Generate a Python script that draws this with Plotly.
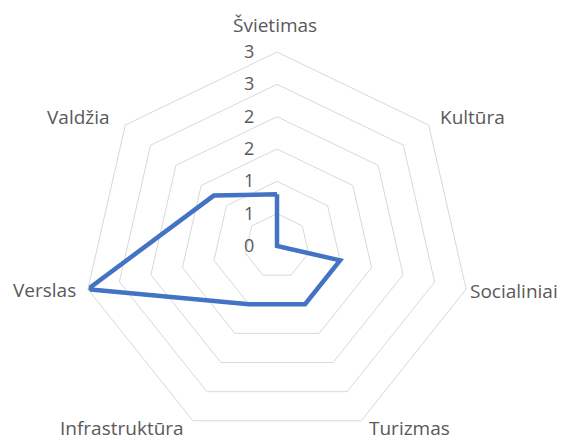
import plotly.graph_objects as go

categories = ["Švietimas", "Kultūra", "Socialiniai", "Turizmas", "Infrastruktūra", "Verslas", "Valdžia"]
values = [0.8, 0.0, 1.0, 1.0, 1.0, 3.0, 1.25]
tick_vals = [0, 0.5, 1, 1.5, 2, 2.5, 3]
tick_text = ["0", "1", "1", "2", "2", "3", "3"]

W, H = 569, 440
cx, cy, r = 277, 246, 194

# category label placement (pixels from top-left) and anchors
label_pos = [
    (275, 25, "center"),
    (438, 117, "left"),
    (468, 291, "left"),
    (367, 428, "left"),
    (186, 428, "right"),
    (78, 290, "right"),
    (112, 117, "right"),
]

fig = go.Figure()
fig.add_trace(go.Scatterpolar(
    r=values + values[:1],
    theta=categories + categories[:1],
    mode="lines",
    line=dict(color="#4472C4", width=4.5),
    hoverinfo="skip",
))

annotations = []
for name, (px, py, anchor) in zip(categories, label_pos):
    annotations.append(dict(
        text=name, x=px / W, y=1 - py / H, xref="paper", yref="paper",
        xanchor=anchor, yanchor="middle", showarrow=False,
        font=dict(family="Open Sans, sans-serif", size=19, color="#595959"),
    ))

fig.update_layout(
    width=W, height=H,
    margin=dict(l=0, r=0, t=0, b=0),
    paper_bgcolor="white",
    plot_bgcolor="white",
    showlegend=False,
    font=dict(family="Open Sans, sans-serif", color="#595959", size=18),
    annotations=annotations,
    polar=dict(
        domain=dict(x=[(cx - r) / W, (cx + r) / W], y=[(H - cy - r) / H, (H - cy + r) / H]),
        bgcolor="white",
        gridshape="linear",
        radialaxis=dict(
            range=[0, 3],
            tickvals=tick_vals,
            ticktext=tick_text,
            angle=90,
            tickangle=90,
            side="counterclockwise",
            showline=False,
            ticks="outside",
            ticklen=16,
            tickcolor="rgba(0,0,0,0)",
            gridcolor="#d9d9d9",
            gridwidth=1,
            tickfont=dict(family="Open Sans, sans-serif", size=18, color="#595959"),
        ),
        angularaxis=dict(
            rotation=90,
            direction="clockwise",
            showgrid=False,
            showline=True,
            linecolor="#d9d9d9",
            linewidth=1,
            ticks="",
            showticklabels=False,
        ),
    ),
)

fig.write_html("out.html", config={"displayModeBar": False},
               post_script="document.body.style.margin='0';")
